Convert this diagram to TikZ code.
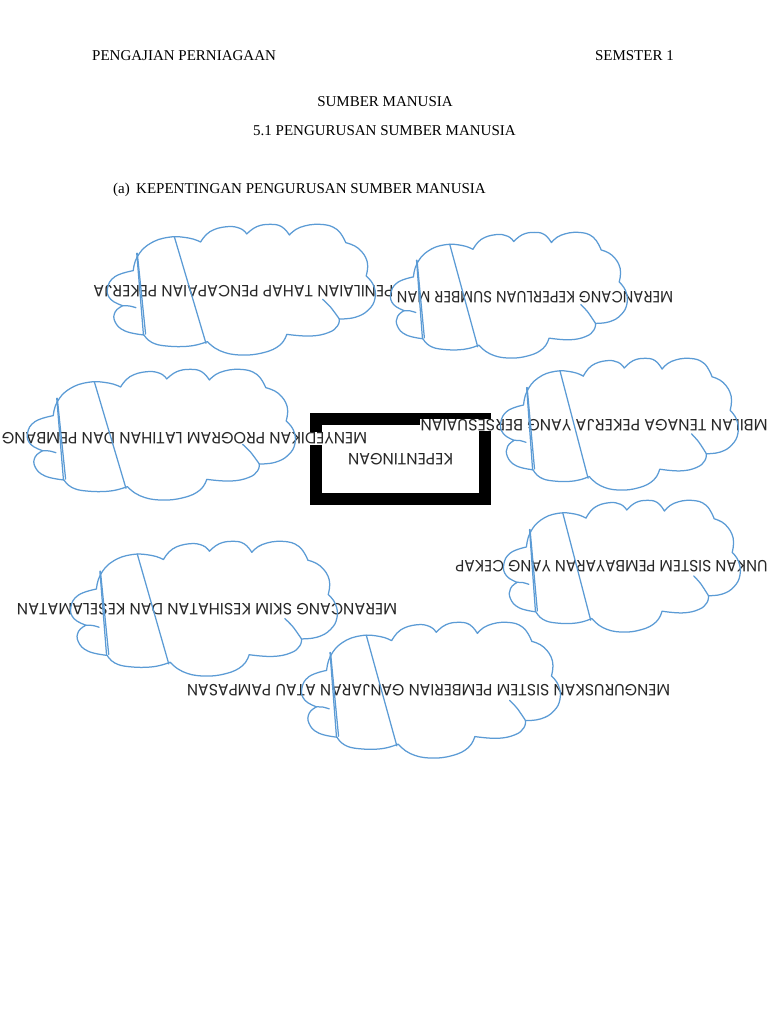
\documentclass[tikz,border=0pt]{standalone}
\usepackage{fontspec}
\setmainfont{Liberation Serif}
\newfontfamily\cfont{Poppins}
\usepackage{graphicx}
\definecolor{cloudblue}{RGB}{91,155,213}
\definecolor{ctextcol}{RGB}{40,40,40}
\tikzset{
  cloudline/.style={draw=cloudblue, line width=1.25pt, line join=round, line cap=round},
  ctext/.style={rotate=180, fill=white, inner sep=0.6pt, text=ctextcol},
  head/.style={inner sep=0pt, font=\fontsize{15}{18}\selectfont},
  kbox/.style={draw=black, line width=12pt, minimum width=169pt, minimum height=80pt, inner sep=0pt},
}
\newcommand\ct[3]{\resizebox{#1pt}{#2pt}{\cfont #3}}
\newcommand\cloudpath{%
  \draw[cloudline]
    plot[smooth,tension=0.75] coordinates {(0.099,0.351)(0.114,0.244)(0.160,0.145)(0.232,0.094)(0.305,0.100)(0.350,0.131)}
 -- plot[smooth,tension=0.75] coordinates {(0.350,0.131)(0.385,0.051)(0.447,0.013)(0.497,0.026)(0.522,0.069)}
 -- plot[smooth,tension=0.75] coordinates {(0.522,0.069)(0.559,0.013)(0.609,-0.005)(0.652,0.013)(0.681,0.077)}
 -- plot[smooth,tension=0.75] coordinates {(0.681,0.077)(0.721,0.018)(0.795,-0.005)(0.857,0.033)(0.891,0.136)}
 -- plot[smooth,tension=0.75] coordinates {(0.891,0.136)(0.938,0.180)(0.971,0.282)(0.967,0.392)}
 -- plot[smooth,tension=0.75] coordinates {(0.967,0.392)(0.994,0.462)(1.000,0.564)(0.975,0.654)(0.926,0.710)(0.867,0.723)}
 -- plot[smooth,tension=0.75] coordinates {(0.867,0.723)(0.860,0.777)(0.826,0.828)(0.758,0.854)(0.671,0.841)}
 -- plot[smooth,tension=0.75] coordinates {(0.671,0.841)(0.646,0.923)(0.584,0.982)(0.497,1.000)(0.422,0.967)(0.375,0.897)}
 -- plot[smooth,tension=0.75] coordinates {(0.375,0.897)(0.311,0.931)(0.224,0.931)(0.168,0.903)(0.139,0.846)}
 -- plot[smooth,tension=0.75] coordinates {(0.139,0.846)(0.068,0.815)(0.031,0.744)(0.032,0.667)(0.060,0.621)}
 -- plot[smooth,tension=0.75] coordinates {(0.060,0.621)(0.015,0.572)(0.003,0.487)(0.031,0.397)(0.099,0.351)};
  \draw[cloudline] plot[smooth] coordinates {(0.060,0.621)(0.085,0.623)(0.109,0.636)};
  \draw[cloudline] plot[smooth] coordinates {(0.805,0.572)(0.835,0.633)(0.867,0.723)};
  \draw[cloudline] (0.112,0.218) -- (0.137,0.846);
  \draw[cloudline] (0.114,0.218) -- (0.145,0.839);
  \draw[cloudline] (0.252,0.090) -- (0.370,0.910);
}
\newcommand\cloudat[4]{\begin{scope}[shift={(#1,#2)},xscale=#3,yscale=#4]\cloudpath\end{scope}}
\begin{document}
\begin{tikzpicture}[x=1pt,y=-1pt]
\useasboundingbox (0,0) rectangle (768,1024);
\fill[white] (0,0) rectangle (768,1024);
% header
\node[head, anchor=base west] (h1) at (92,61) {PENGAJIAN PERNIAGAAN};
\node[head, anchor=base east] (h2) at (674,61) {SEMSTER 1};
\node[head, anchor=base] (h3) at (385,107) {SUMBER MANUSIA};
\node[head, anchor=base] (h4) at (384.5,136) {5.1 PENGURUSAN SUMBER MANUSIA};
\node[head, anchor=base west] (h5a) at (113,194) {(a)};
\node[head, anchor=base west] (h5b) at (136,194) {KEPENTINGAN PENGURUSAN SUMBER MANUSIA};
% central box
\node[kbox] (box) at (400.5,459) {};
\node[rotate=180, inner sep=0pt, text=ctextcol] (boxtext) at (400.5,459) {\ct{105}{11.5}{KEPENTINGAN}};
% cloud texts
\node[ctext] (t1) at (243.3,291.2) {\ct{300}{11.5}{PENILAIAN TAHAP PENCAPAIAN PEKERJA}};
\node[ctext] (t2) at (535,297) {\ct{276}{11.5}{MERANCANG KEPERLUAN SUMBER MAN}};
\node[ctext] (t3) at (184.5,438.5) {\ct{365}{11.5}{MENYEDIKAN PROGRAM LATIHAN DAN PEMBANG}};
\node[ctext] (t4) at (594,425) {\ct{347}{11.5}{MBILAN TENAGA PEKERJA YANG BERSESUAIAN}};
\node[ctext] (t5) at (611.5,566.5) {\ct{312}{11.5}{UNKAN SISTEM PEMBAYARAN YANG CEKAP}};
\node[ctext] (t6) at (207,609) {\ct{380}{11.5}{MERANCANG SKIM KESIHATAN DAN KESELAMATAN}};
\node[ctext] (t7) at (428.5,690.5) {\ct{483}{11.5}{MENGURUSKAN SISTEM PEMBERIAN GANJARAN ATAU PAMPASAN}};
% clouds
\cloudat{106.7}{225}{268.3}{130}
\cloudat{390}{233}{237}{125}
\cloudat{26.7}{370}{268.3}{130}
\cloudat{500}{359}{238}{131}
\cloudat{503}{501}{237}{131}
\cloudat{70}{542}{267}{134}
\cloudat{301}{623}{259}{135}
\end{tikzpicture}
\end{document}
